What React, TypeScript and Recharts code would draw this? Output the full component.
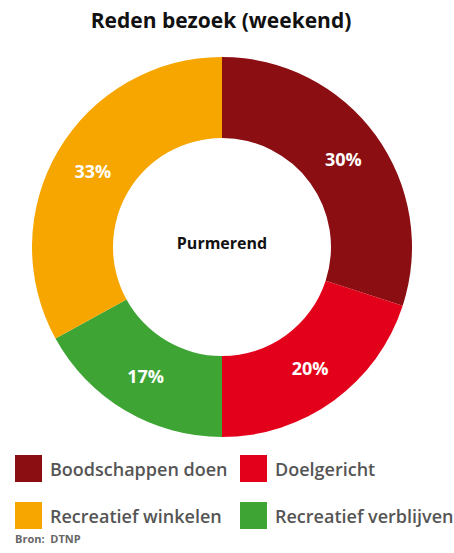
import React from 'react';
import { PieChart, Pie, Cell } from 'recharts';

const categories = ['Boodschappen doen', 'Doelgericht', 'Recreatief verblijven', 'Recreatief winkelen'];
const values = [30, 20, 17, 33];
const colors = ['#8B0E12', '#E3001B', '#3EA535', '#F7A600'];
const legendOrder = [0, 1, 3, 2];

const data = categories.map((name, i) => ({ name, value: values[i] }));

const RAD = Math.PI / 180;

const renderLabel = (props: any) => {
  const { cx, cy, midAngle, value } = props;
  const r = 150;
  const x = cx + r * Math.cos(-midAngle * RAD);
  const y = cy + r * Math.sin(-midAngle * RAD);
  return (
    <text x={x} y={y} fill="#fff" textAnchor="middle" dominantBaseline="central"
      fontFamily="'Open Sans', sans-serif" fontWeight={700} fontSize={18}>
      {`${value}%`}
    </text>
  );
};

export default function App() {
  const font = "'Open Sans', sans-serif";
  return (
    <div style={{ position: 'absolute', left: 0, top: 0, width: 454, height: 553, background: '#fff', fontFamily: font }}>
      <div style={{ position: 'absolute', left: 0, top: 6, width: 442, textAlign: 'center', fontSize: 21, fontWeight: 700, color: '#111' }}>
        Reden bezoek (weekend)
      </div>
      <PieChart width={454} height={553} margin={{ top: 0, right: 0, bottom: 0, left: 0 }} style={{ position: 'absolute', left: 0, top: 0 }}>
        <defs>
          <filter id="shadow" x="-20%" y="-20%" width="140%" height="140%">
            <feDropShadow dx="1" dy="2" stdDeviation="2.5" floodColor="#000" floodOpacity="0.35" />
          </filter>
        </defs>
        <Pie
          data={data}
          dataKey="value"
          nameKey="name"
          cx={222}
          cy={247}
          innerRadius={109}
          outerRadius={190}
          startAngle={90}
          endAngle={-270}
          stroke="none"
          label={renderLabel}
          labelLine={false}
          isAnimationActive={false}
        >
          {data.map((d, i) => (
            <Cell key={d.name} fill={colors[i]} />
          ))}
        </Pie>
        <text x={222} y={243} textAnchor="middle" dominantBaseline="central" fontFamily={font} fontWeight={700} fontSize={16} fill="#111">
          Purmerend
        </text>
      </PieChart>
      {legendOrder.map((idx, k) => {
        const col = k % 2;
        const row = Math.floor(k / 2);
        const left = col === 0 ? 15 : 240;
        const top = row === 0 ? 455 : 502;
        return (
          <div key={categories[idx]} style={{ position: 'absolute', left, top, height: 27, display: 'flex', alignItems: 'center' }}>
            <div style={{ width: 27, height: 27, background: colors[idx], marginRight: 8 }} />
            <span style={{ fontSize: 18, fontWeight: 600, color: '#555', whiteSpace: 'nowrap' }}>{categories[idx]}</span>
          </div>
        );
      })}
      <div style={{ position: 'absolute', left: 15, top: 531, fontSize: 11, fontWeight: 700, color: '#666' }}>
        Bron:&nbsp; DTNP
      </div>
    </div>
  );
}
